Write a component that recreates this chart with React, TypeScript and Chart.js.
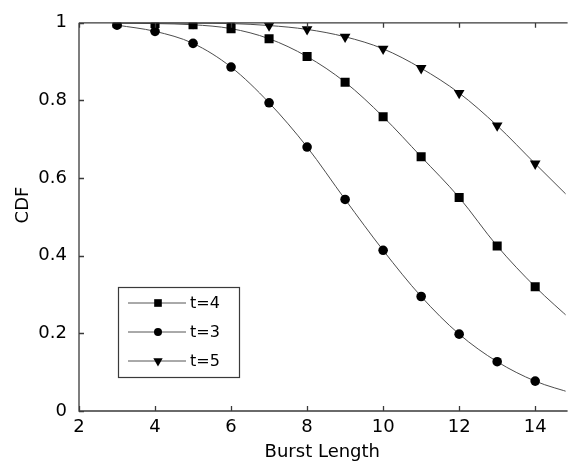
import React, { useEffect, useRef } from "react";
import { Chart, registerables } from "chart.js";

Chart.register(...registerables);

const burstLengths = [3, 4, 5, 6, 7, 8, 9, 10, 11, 12, 13, 14, 15];
const cdfT4 = [0.999, 0.998, 0.995, 0.985, 0.959, 0.913, 0.847, 0.758, 0.655, 0.55, 0.425, 0.32, 0.23];
const cdfT3 = [0.994, 0.978, 0.947, 0.886, 0.794, 0.68, 0.545, 0.414, 0.295, 0.198, 0.127, 0.077, 0.045];
const cdfT5 = [1.0, 1.0, 0.999, 0.998, 0.993, 0.983, 0.964, 0.933, 0.883, 0.819, 0.735, 0.637, 0.54];
const seriesLabels = ["t=4", "t=3", "t=5"];
const xTickValues = [2, 4, 6, 8, 10, 12, 14];
const yTickValues = [0, 0.2, 0.4, 0.6, 0.8, 1];
const lastMarkedLength = 14;
const xTitle = "Burst Length";
const yTitle = "CDF";

const FONT = "'DejaVu Sans', sans-serif";

const styles = [
  { pointStyle: "rect", radius: 6.4, rotation: 0, legendRadius: 5.4 },
  { pointStyle: "circle", radius: 4.8, rotation: 0, legendRadius: 4 },
  { pointStyle: "triangle", radius: 6.2, rotation: 180, legendRadius: 5.4 },
];

function drawMarker(ctx: CanvasRenderingContext2D, style: string, r: number, rot: number, x: number, y: number) {
  ctx.beginPath();
  if (style === "rect") {
    const s = Math.SQRT1_2 * r;
    ctx.rect(x - s, y - s, 2 * s, 2 * s);
  } else if (style === "circle") {
    ctx.arc(x, y, r, 0, Math.PI * 2);
  } else {
    let rad = (rot * Math.PI) / 180;
    ctx.moveTo(x + Math.sin(rad) * r, y - Math.cos(rad) * r);
    rad += (2 * Math.PI) / 3;
    ctx.lineTo(x + Math.sin(rad) * r, y - Math.cos(rad) * r);
    rad += (2 * Math.PI) / 3;
    ctx.lineTo(x + Math.sin(rad) * r, y - Math.cos(rad) * r);
    ctx.closePath();
  }
  ctx.fill();
}

const framePlugin = {
  id: "matlabFrame",
  afterDraw(chart: any) {
    const { ctx, chartArea } = chart;
    const xs = chart.scales.x;
    const ys = chart.scales.y;
    const { left, right, top, bottom } = chartArea;
    ctx.save();
    ctx.strokeStyle = "#3a3a3a";
    ctx.lineWidth = 1.3;
    ctx.beginPath();
    ctx.moveTo(left, top);
    ctx.lineTo(right + 2, top);
    ctx.moveTo(left, top);
    ctx.lineTo(left, bottom);
    ctx.lineTo(right + 2, bottom);
    const tl = 5;
    xTickValues.forEach((v) => {
      const px = Math.round(xs.getPixelForValue(v)) + 0.5;
      ctx.moveTo(px, bottom);
      ctx.lineTo(px, bottom - tl);
      ctx.moveTo(px, top);
      ctx.lineTo(px, top + tl);
    });
    yTickValues.forEach((v) => {
      const py = Math.round(ys.getPixelForValue(v)) + 0.5;
      ctx.moveTo(left, py);
      ctx.lineTo(left + tl, py);
    });
    ctx.stroke();

    // y axis title
    ctx.save();
    ctx.translate(23, 205);
    ctx.rotate(-Math.PI / 2);
    ctx.fillStyle = "#000";
    ctx.font = `18px ${FONT}`;
    ctx.textAlign = "center";
    ctx.textBaseline = "middle";
    ctx.fillText(yTitle, 0, 0);
    ctx.restore();

    // legend
    const bx = 118.5, by = 287.5, bw = 121, bh = 90;
    ctx.fillStyle = "#ffffff";
    ctx.fillRect(bx, by, bw, bh);
    ctx.strokeStyle = "#3a3a3a";
    ctx.lineWidth = 1.2;
    ctx.strokeRect(bx, by, bw, bh);
    const rows = [303, 332, 361];
    chart.data.datasets.forEach((ds: any, i: number) => {
      const y = rows[i];
      ctx.strokeStyle = "#555555";
      ctx.lineWidth = 1;
      ctx.beginPath();
      ctx.moveTo(128, y);
      ctx.lineTo(186, y);
      ctx.stroke();
      ctx.fillStyle = "#000000";
      const st = styles[i];
      drawMarker(ctx, st.pointStyle, st.legendRadius, st.rotation, 158, y);
      ctx.fillStyle = "#000000";
      ctx.font = `16px ${FONT}`;
      ctx.textBaseline = "middle";
      ctx.textAlign = "left";
      ctx.fillText(ds.label, 190, y + 1);
    });
    ctx.restore();
  },
};

export default function App() {
  const ref = useRef<HTMLCanvasElement | null>(null);
  useEffect(() => {
    document.body.style.margin = "0";
    const canvas = ref.current;
    if (!canvas) return;
    const seriesValues = [cdfT4, cdfT3, cdfT5];
    const chart = new Chart(canvas, {
      type: "line",
      data: {
        datasets: seriesValues.map((vals, i) => ({
          label: seriesLabels[i],
          data: burstLengths.map((x, j) => ({ x, y: vals[j] })),
          borderColor: "#4d4d4d",
          borderWidth: 1,
          backgroundColor: "#000000",
          pointBackgroundColor: "#000000",
          pointBorderColor: "#000000",
          pointBorderWidth: 0,
          pointStyle: styles[i].pointStyle as any,
          pointRotation: styles[i].rotation,
          pointRadius: burstLengths.map((x) => (x <= lastMarkedLength ? styles[i].radius : 0)),
          pointHoverRadius: 0,
          cubicInterpolationMode: "monotone",
          fill: false,
        })),
      },
      plugins: [framePlugin],
      options: {
        animation: false,
        responsive: false,
        maintainAspectRatio: false,
        events: [],
        layout: { padding: { top: 18, left: 0, right: 0, bottom: 0 } },
        plugins: { legend: { display: false }, tooltip: { enabled: false } },
        scales: {
          x: {
            type: "linear",
            min: 2,
            max: 14.8,
            grid: { display: false, drawTicks: false },
            border: { display: false },
            ticks: {
              stepSize: 2,
              includeBounds: false,
              padding: 6,
              color: "#000",
              font: { family: FONT, size: 18 },
              maxRotation: 0,
            },
            title: {
              display: true,
              text: xTitle,
              color: "#000",
              font: { family: FONT, size: 18 },
              padding: { top: 0, bottom: 3 },
            },
            afterFit: (s: any) => {
              s.height = 55;
            },
          },
          y: {
            type: "linear",
            min: 0,
            max: 1,
            grid: { display: false, drawTicks: false },
            border: { display: false },
            ticks: {
              stepSize: 0.2,
              padding: 12,
              color: "#000",
              font: { family: FONT, size: 18 },
              callback: (v: any) => String(Math.round(Number(v) * 10) / 10),
            },
            afterFit: (s: any) => {
              s.width = 79;
            },
          },
        },
      },
    });
    return () => chart.destroy();
  }, []);
  return (
    <div style={{ position: "absolute", left: 0, top: 0, width: 572, height: 466, background: "#fff" }}>
      <canvas ref={ref} width={572} height={466} style={{ display: "block" }} />
    </div>
  );
}
